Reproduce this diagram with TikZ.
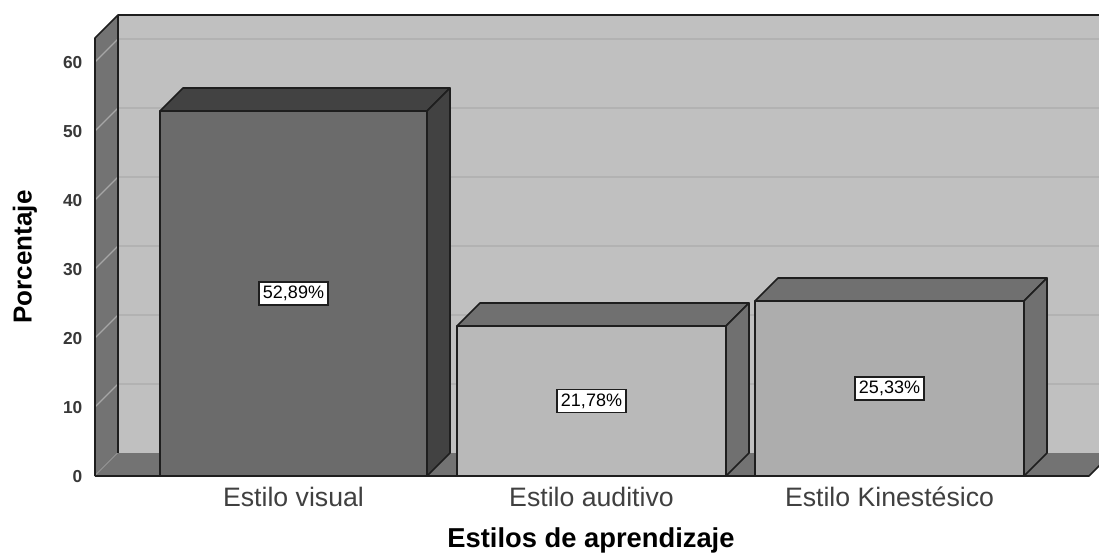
\documentclass[tikz,border=0pt]{standalone}
\usepackage{fontspec}
\setmainfont{Liberation Sans}
\definecolor{wallback}{HTML}{C0C0C0}
\definecolor{wallside}{HTML}{737373}
\definecolor{gridback}{HTML}{B2B2B2}
\definecolor{gridside}{HTML}{A6A6A6}
\definecolor{edgecol}{HTML}{1E1E1E}
\definecolor{visualfront}{HTML}{6B6B6B}
\definecolor{visualside}{HTML}{424242}
\definecolor{auditfront}{HTML}{B9B9B9}
\definecolor{kinefront}{HTML}{ADADAD}
\definecolor{lightside}{HTML}{707070}
\definecolor{tickcol}{HTML}{383838}
\definecolor{catcol}{HTML}{404040}
\tikzset{
    outline/.style={draw=edgecol, line width=1.2pt, line join=round},
    gridline/.style={draw=gridback, line width=0.9pt},
    sidegrid/.style={draw=gridside, line width=0.9pt},
    pct/.style={draw=edgecol, fill=white, line width=1pt, inner sep=3pt, font=\fontsize{13.5}{15}\selectfont},
    catlbl/.style={text=catcol, anchor=base, font=\fontsize{20}{22}\selectfont},
    ticklbl/.style={text=tickcol, anchor=east, font=\bfseries\fontsize{13}{15}\selectfont},
    axislbl/.style={text=black, font=\bfseries\fontsize{19.5}{22}\selectfont},
}

\begin{document}
\begin{tikzpicture}[x=0.75pt, y=-0.75pt]
    \clip (0,0) rectangle (1099,553);
    \fill[white] (0,0) rectangle (1099,553);
    \fill[wallback] (118,15) rectangle (1112,453);
    \foreach \v in {10,20,...,60}
        \draw[gridline] (118,{453-6.9*\v}) -- (1112,{453-6.9*\v});
    \fill[wallside] (95,38) -- (118,15) -- (118,453) -- (95,476) -- cycle;
    \foreach \v in {0,10,...,60}
        \draw[sidegrid] (95,{476-6.9*\v}) -- (118,{453-6.9*\v});
    \fill[wallside] (95,476) -- (118,453) -- (1112,453) -- (1089,476) -- cycle;
    \draw[outline] (95,476) -- (95,38) -- (118,15) -- (1112,15);
    \draw[outline] (118,15) -- (118,453);
    \draw[outline] (95,476) -- (1089,476) -- (1112,453);
    \foreach \xl/\xr/\yt/\fr/\sd/\nm/\pc/\cat in {
        160/427/111/visualfront/visualside/visual/{52,89\%}/{Estilo visual},
        457/726/326/auditfront/lightside/auditivo/{21,78\%}/{Estilo auditivo},
        755/1024/301/kinefront/lightside/kinestesico/{25,33\%}/{Estilo Kinestésico}}{
        \filldraw[outline, fill=\sd] (\xl,\yt) -- (\xl+23,\yt-23) -- (\xr+23,\yt-23) -- (\xr,\yt) -- cycle;
        \filldraw[outline, fill=\sd] (\xr,\yt) -- (\xr+23,\yt-23) -- (\xr+23,453) -- (\xr,476) -- cycle;
        \filldraw[outline, fill=\fr] (\xl,476) rectangle (\xr,\yt);
        \node[pct] (\nm-pct) at ({(\xl+\xr)/2},{(\yt+476)/2}) {\pc};
        \node[catlbl] (\nm) at ({(\xl+\xr)/2},506) {\cat};
    }
    \foreach \v in {0,10,...,60}
        \node[ticklbl] (tick\v) at (87,{477-6.9*\v}) {\v};
    \node[axislbl, rotate=90] (ylabel) at (25,257) {Porcentaje};
    \node[axislbl, anchor=base, font=\bfseries\fontsize{20.5}{22}\selectfont] (xlabel) at (591,547) {Estilos de aprendizaje};
\end{tikzpicture}
\end{document}
